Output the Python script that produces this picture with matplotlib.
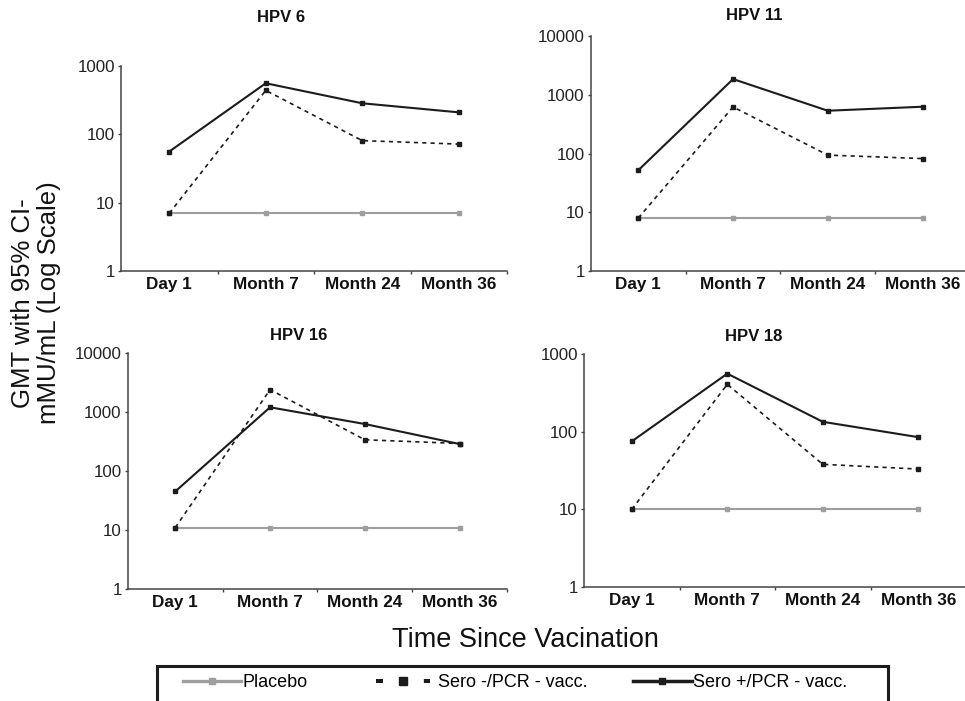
import numpy as np
import matplotlib
matplotlib.use("Agg")
import matplotlib.pyplot as plt
import matplotlib.patches as patches
from matplotlib.lines import Line2D

plt.rcParams["font.family"] = ["Liberation Sans", "DejaVu Sans"]

# ── data (GMT, mMU/mL) ──
categories = ["Day 1", "Month 7", "Month 24", "Month 36"]
panel_titles = ["HPV 6", "HPV 11", "HPV 16", "HPV 18"]
series_names = ["Placebo", "Sero -/PCR - vacc.", "Sero +/PCR - vacc."]
top_decade = [3, 4, 4, 3]

hpv6_placebo = [7, 7, 7, 7]
hpv6_sero_neg = [7, 440, 81, 72]
hpv6_sero_pos = [56, 560, 285, 210]

hpv11_placebo = [8, 8, 8, 8]
hpv11_sero_neg = [8, 620, 94, 82]
hpv11_sero_pos = [52, 1850, 535, 626]

hpv16_placebo = [11, 11, 11, 11]
hpv16_sero_neg = [11, 2390, 338, 292]
hpv16_sero_pos = [45, 1200, 625, 286]

hpv18_placebo = [10, 10, 10, 10]
hpv18_sero_neg = [10, 407, 38, 33]
hpv18_sero_pos = [75, 559, 134, 85]

panel_data = [
    (hpv6_placebo, hpv6_sero_neg, hpv6_sero_pos),
    (hpv11_placebo, hpv11_sero_neg, hpv11_sero_pos),
    (hpv16_placebo, hpv16_sero_neg, hpv16_sero_pos),
    (hpv18_placebo, hpv18_sero_neg, hpv18_sero_pos),
]

GRAY = "#9e9e9e"
INK = "#1c1c1c"
SPINE = "#444444"

fig = plt.figure(figsize=(9.65, 7.01), dpi=100)

# axes boxes (left, bottom, width, height) and title spots in axes fractions
boxes = [
    (0.1254, 0.6134, 0.4000, 0.2924),
    (0.6124, 0.6134, 0.3927, 0.3352),
    (0.1326, 0.1598, 0.3927, 0.3367),
    (0.6052, 0.1626, 0.3959, 0.3324),
]
title_spots = [(0.415, 1.239), (0.430, 1.089), (0.451, 1.072), (0.445, 1.077)]

x = np.arange(len(categories))
for box, title, spot, top, (plac, neg, pos) in zip(boxes, panel_titles, title_spots, top_decade, panel_data):
    ax = fig.add_axes(box)
    ax.plot(x, plac, color=GRAY, lw=1.5, marker="s", ms=3.0, zorder=2)
    ax.plot(x, neg, color=INK, lw=1.2, dashes=(2.5, 2.5), marker="s", ms=3.0, zorder=3)
    ax.plot(x, pos, color=INK, lw=1.5, marker="s", ms=3.0, zorder=4)

    ax.set_yscale("log")
    ax.set_ylim(1, 10 ** top)
    ax.set_xlim(-0.5, len(categories) - 0.5)

    yt = 10.0 ** np.arange(top + 1)
    ax.set_yticks(yt, [str(int(v)) for v in yt])
    ax.yaxis.set_minor_locator(plt.NullLocator())
    ax.set_xticks(x, categories, fontweight="bold")
    ax.set_xticks(x + 0.5, minor=True)

    ax.tick_params(axis="x", which="major", length=0, pad=4, labelsize=12.3, labelcolor="#111111")
    ax.tick_params(axis="x", which="minor", length=2.5, width=1, color=SPINE)
    ax.tick_params(axis="y", which="major", length=2.5, width=1, pad=2, labelsize=12.2,
                   color=SPINE, labelcolor="#222222")
    for s in ("top", "right"):
        ax.spines[s].set_visible(False)
    for s in ("left", "bottom"):
        ax.spines[s].set_color(SPINE)
        ax.spines[s].set_linewidth(1.1)

    ax.text(spot[0], spot[1], title, transform=ax.transAxes, ha="center", va="center",
            fontsize=12, fontweight="bold", color="#111111")

fig.text(0.0373, 0.568, "GMT with 95% CI-\nmMU/mL (Log Scale)", rotation=90,
         ha="center", va="center", fontsize=18.5, linespacing=1.12,
         multialignment="center", color="#111111")
fig.text(0.545, 0.087, "Time Since Vacination", ha="center", va="center",
         fontsize=19.5, color="#111111")

# ── legend: frame runs off the bottom edge ──
fig.add_artist(patches.Rectangle((0.1627, -0.05), 0.7575, 0.0999, transform=fig.transFigure,
                                 fill=False, edgecolor=INK, lw=2.2))

handles = [
    Line2D([], [], color=GRAY, lw=2.4, marker="s", ms=5),
    Line2D([], [], color=INK, lw=2.9, dashes=(1.74, 4.2), marker="s", ms=5.5),
    Line2D([], [], color=INK, lw=2.5, marker="s", ms=5),
]
leg_x = [0.1896, 0.3896, 0.6560]
leg_len = [3.2, 3.0, 3.25]
leg_pad = [0.1, 0.45, 0.05]
for h, name, lx, hl, tp in zip(handles, series_names, leg_x, leg_len, leg_pad):
    fig.legend([h], [name], loc="center left", bbox_to_anchor=(lx, 0.0257), frameon=False,
               borderpad=0, borderaxespad=0, handlelength=hl, handletextpad=tp,
               fontsize=13, numpoints=1)

fig.savefig("out.png", dpi=100)
